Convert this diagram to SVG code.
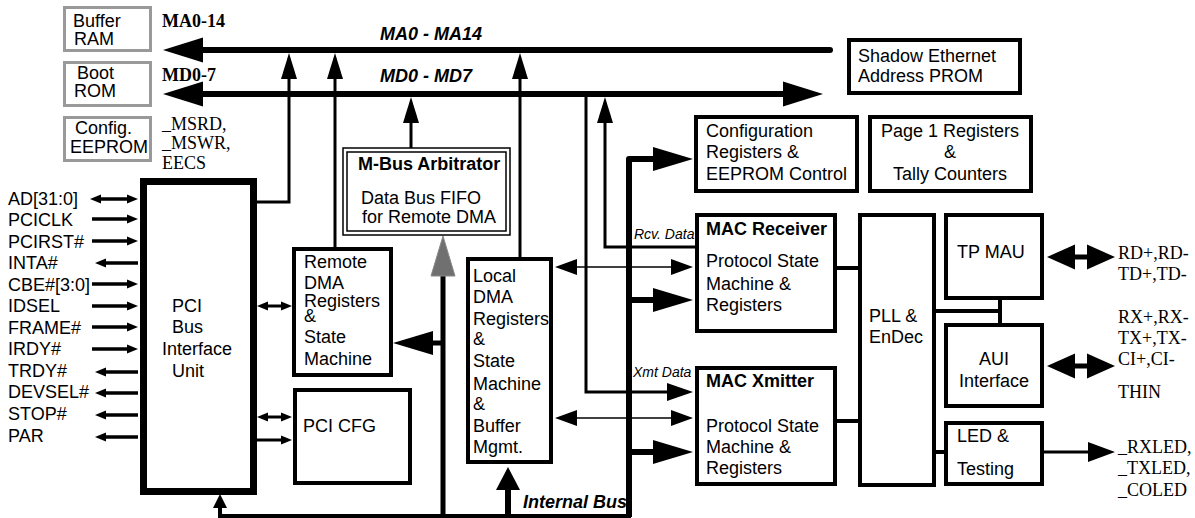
<svg xmlns="http://www.w3.org/2000/svg" width="1195" height="518" viewBox="0 0 1195 518">
<style>
.box{fill:#fff;stroke:#000;stroke-width:4}
.gbox{fill:#fff;stroke:#999;stroke-width:3}
.t{font-family:"Liberation Sans",Arial,sans-serif;font-size:18px;fill:#000}
.s{font-family:"Liberation Serif","Times New Roman",serif;font-size:18px;fill:#000}
.b{font-weight:bold}
.bi{font-weight:bold;font-style:italic}
.it{font-style:italic;font-size:14px}
.c{text-anchor:middle}
.ln{fill:none;stroke:#000}
</style>
<defs>
<marker id="mBig" markerUnits="userSpaceOnUse" markerWidth="40" markerHeight="25" refX="0" refY="12.5" orient="auto-start-reverse" overflow="visible"><path d="M0,0 L40,12.5 L0,25 z"/></marker>
<marker id="mMed" markerUnits="userSpaceOnUse" markerWidth="26" markerHeight="16" refX="0" refY="8" orient="auto-start-reverse" overflow="visible"><path d="M0,0 L26,8 L0,16 z"/></marker>
<marker id="mThick" markerUnits="userSpaceOnUse" markerWidth="40" markerHeight="24" refX="0" refY="12" orient="auto-start-reverse" overflow="visible"><path d="M0,0 L40,12 L0,24 z"/></marker>
<marker id="mUp" markerUnits="userSpaceOnUse" markerWidth="23" markerHeight="24" refX="0" refY="12" orient="auto-start-reverse" overflow="visible"><path d="M0,0 L23,12 L0,24 z"/></marker>
<marker id="mGray" markerUnits="userSpaceOnUse" markerWidth="40" markerHeight="24" refX="0" refY="12" orient="auto-start-reverse" overflow="visible"><path d="M0,0 L40,12 L0,24 z" fill="#707070" stroke="#888" stroke-width="1"/></marker>
<marker id="mSmall" markerUnits="userSpaceOnUse" markerWidth="11" markerHeight="9" refX="0" refY="4.5" orient="auto-start-reverse" overflow="visible"><path d="M0,0 L11,4.5 L0,9 z"/></marker>
<marker id="mPci" markerUnits="userSpaceOnUse" markerWidth="14" markerHeight="14" refX="0" refY="7" orient="auto-start-reverse" overflow="visible"><path d="M0,0 L14,7 L0,14 z"/></marker>
<marker id="mThin" markerUnits="userSpaceOnUse" markerWidth="22" markerHeight="16" refX="0" refY="8" orient="auto-start-reverse" overflow="visible"><path d="M0,0 L22,8 L0,16 z"/></marker>
<marker id="mXmt" markerUnits="userSpaceOnUse" markerWidth="26" markerHeight="18" refX="0" refY="9" orient="auto-start-reverse" overflow="visible"><path d="M0,0 L26,9 L0,18 z"/></marker>
<marker id="mDbl" markerUnits="userSpaceOnUse" markerWidth="28" markerHeight="25" refX="0" refY="12.5" orient="auto-start-reverse" overflow="visible"><path d="M0,0 L28,12.5 L0,25 z"/></marker>
<marker id="mLed" markerUnits="userSpaceOnUse" markerWidth="27" markerHeight="20" refX="0" refY="10" orient="auto-start-reverse" overflow="visible"><path d="M0,0 L27,10 L0,20 z"/></marker>
</defs>
<rect width="1195" height="518" fill="#fff"/>

<g id="labels">
<text class="s b" x="162" y="27">MA0-14</text>
<text class="s b" x="162" y="81">MD0-7</text>
<text class="s" x="162" y="130">_MSRD,</text>
<text class="s" x="162" y="149">_MSWR,</text>
<text class="s" x="162" y="169">EECS</text>
<text class="t bi" x="380" y="40">MA0 - MA14</text>
<text class="t bi" x="380" y="82">MD0 - MD7</text>
<text class="t bi" x="523" y="508">Internal Bus</text>
<text class="t it" x="634" y="239">Rcv. Data</text>
<text class="t it" x="633" y="377">Xmt Data</text>
<g class="t">
<text x="8" y="205">AD[31:0]</text>
<text x="8" y="226">PCICLK</text>
<text x="8" y="248">PCIRST#</text>
<text x="8" y="269">INTA#</text>
<text x="8" y="291">CBE#[3:0]</text>
<text x="8" y="312">IDSEL</text>
<text x="8" y="334">FRAME#</text>
<text x="8" y="355">IRDY#</text>
<text x="8" y="377">TRDY#</text>
<text x="8" y="398">DEVSEL#</text>
<text x="8" y="420">STOP#</text>
<text x="8" y="442">PAR</text>
</g>
<g class="s">
<text x="1118" y="259">RD+,RD-</text>
<text x="1118" y="280">TD+,TD-</text>
<text x="1118" y="323">RX+,RX-</text>
<text x="1118" y="344">TX+,TX-</text>
<text x="1118" y="365">CI+,CI-</text>
<text x="1118" y="398">THIN</text>
<text x="1118" y="453">_RXLED,</text>
<text x="1118" y="474">_TXLED,</text>
<text x="1118" y="496">_COLED</text>
</g>
</g>

<g id="connectors">
<path class="ln" stroke-width="6" stroke-linecap="round" d="M830,50 H203" marker-end="url(#mBig)"/>
<path class="ln" stroke-width="6" d="M203,94 H783" marker-start="url(#mBig)" marker-end="url(#mBig)"/>
<path class="ln" stroke-width="3" d="M256,202 H289 V79" marker-end="url(#mMed)"/>
<path class="ln" stroke-width="3" d="M335,248 V79" marker-end="url(#mMed)"/>
<path class="ln" stroke-width="3" d="M520,258 V79" marker-end="url(#mMed)"/>
<path class="ln" stroke-width="3" d="M411,148 V123" marker-end="url(#mMed)"/>
<path class="ln" stroke-width="3" d="M695,247 H605 V123" marker-end="url(#mMed)"/>
<path class="ln" stroke-width="3" d="M586,94 V392 H667" marker-end="url(#mXmt)"/>
<path class="ln" stroke-width="6" stroke-linejoin="round" d="M629,517 V159 H653" marker-end="url(#mThick)"/>
<path class="ln" stroke-width="4" d="M631,516 H220 V508" marker-end="url(#mPci)"/>
<path class="ln" stroke-width="6" d="M508,517 V490" marker-end="url(#mUp)"/>
<path class="ln" stroke-width="5" stroke="#707070" d="M443,518 V276" marker-end="url(#mGray)"/>
<path class="ln" stroke-width="5" d="M443,343 H433" marker-end="url(#mThick)"/>
<path class="ln" stroke-width="6" d="M629,300 H653" marker-end="url(#mThick)"/>
<path class="ln" stroke-width="6" d="M629,452 H653" marker-end="url(#mThick)"/>
<path class="ln" stroke-width="1.5" d="M577,267 H671" marker-start="url(#mThin)" marker-end="url(#mThin)"/>
<path class="ln" stroke-width="1.5" d="M577,418 H671" marker-start="url(#mThin)" marker-end="url(#mThin)"/>
<path class="ln" stroke-width="3" d="M268,306 H281" marker-start="url(#mSmall)" marker-end="url(#mSmall)"/>
<path class="ln" stroke-width="3" d="M268,417 H281" marker-start="url(#mSmall)" marker-end="url(#mSmall)"/>
<path class="ln" stroke-width="3" d="M254,440 H281" marker-end="url(#mSmall)"/>
<g class="ln" stroke-width="3.5">
<path d="M101,199 H127" marker-start="url(#mSmall)" marker-end="url(#mSmall)"/>
<path d="M92,219 H127" marker-end="url(#mSmall)"/>
<path d="M92,241 H127" marker-end="url(#mSmall)"/>
<path d="M138,263 H106" marker-end="url(#mSmall)"/>
<path d="M92,284 H127" marker-end="url(#mSmall)"/>
<path d="M92,306 H127" marker-end="url(#mSmall)"/>
<path d="M92,327 H127" marker-end="url(#mSmall)"/>
<path d="M92,349 H127" marker-end="url(#mSmall)"/>
<path d="M138,372 H106" marker-end="url(#mSmall)"/>
<path d="M138,393 H106" marker-end="url(#mSmall)"/>
<path d="M138,415 H106" marker-end="url(#mSmall)"/>
<path d="M138,437 H106" marker-end="url(#mSmall)"/>
</g>
<g class="ln" stroke-width="4">
<path d="M837,268 H858"/>
<path d="M837,421 H858"/>
<path d="M936,311 H1000 M1000,300 V323"/>
<path d="M936,452 H944"/>
</g>
<path class="ln" stroke-width="5" d="M1075,257 H1087" marker-start="url(#mDbl)" marker-end="url(#mDbl)"/>
<path class="ln" stroke-width="5" d="M1075,366 H1087" marker-start="url(#mDbl)" marker-end="url(#mDbl)"/>
<path class="ln" stroke-width="3" d="M1044,452 H1088" marker-end="url(#mLed)"/>
</g>

<g id="buffer-ram"><rect class="gbox" x="64.5" y="7.5" width="86" height="43"/><text class="t" x="73" y="27">Buffer</text><text class="t" x="74" y="45">RAM</text></g>
<g id="boot-rom"><rect class="gbox" x="64.5" y="62.5" width="86" height="43"/><text class="t" x="77" y="79">Boot</text><text class="t" x="74" y="97">ROM</text></g>
<g id="config-eeprom"><rect class="gbox" x="64.5" y="117.5" width="86" height="43"/><text class="t" x="75" y="134">Config.</text><text class="t" x="70" y="153">EEPROM</text></g>

<g id="pci-biu"><rect class="box" style="stroke-width:7" x="143.5" y="181.5" width="110" height="310"/>
<text class="t" x="172" y="312">PCI</text><text class="t" x="172" y="333">Bus</text><text class="t" x="162" y="355">Interface</text><text class="t" x="172" y="377">Unit</text></g>

<g id="remote-dma"><rect class="box" x="294" y="249" width="97" height="126"/>
<text class="t" x="304" y="268">Remote</text><text class="t" x="304" y="289">DMA</text><text class="t" x="304" y="307">Registers</text><text class="t" x="304" y="322">&amp;</text><text class="t" x="304" y="343">State</text><text class="t" x="304" y="365">Machine</text></g>

<g id="pci-cfg"><rect class="box" x="295" y="390" width="115" height="93"/><text class="t" x="303" y="432">PCI CFG</text></g>

<g id="mbus-arbitrator"><rect x="343" y="148" width="167" height="87" fill="#fff" stroke="#000" stroke-width="1.5"/><rect x="347" y="152" width="159" height="79" fill="none" stroke="#000" stroke-width="1.5"/>
<text class="t b" x="358" y="170">M-Bus Arbitrator</text><text class="t" x="361" y="204">Data Bus FIFO</text><text class="t" x="362" y="223">for Remote DMA</text></g>

<g id="local-dma"><rect class="box" x="468" y="259" width="83" height="203"/>
<text class="t" x="473" y="282">Local</text><text class="t" x="473" y="303">DMA</text><text class="t" x="473" y="325">Registers</text><text class="t" x="473" y="345">&amp;</text><text class="t" x="473" y="367">State</text><text class="t" x="473" y="390">Machine</text><text class="t" x="473" y="410">&amp;</text><text class="t" x="473" y="432">Buffer</text><text class="t" x="473" y="453">Mgmt.</text></g>

<g id="shadow-prom"><rect class="box" x="849" y="40" width="171" height="53"/><text class="t" x="858" y="62">Shadow Ethernet</text><text class="t" x="858" y="82">Address PROM</text></g>

<g id="config-registers"><rect class="box" x="696" y="117" width="161" height="74"/><text class="t" x="706" y="137">Configuration</text><text class="t" x="706" y="158">Registers &amp;</text><text class="t" x="706" y="180">EEPROM Control</text></g>

<g id="page1-registers"><rect class="box" x="870" y="117" width="161" height="74"/><text class="t c" x="950" y="137">Page 1 Registers</text><text class="t c" x="950" y="158">&amp;</text><text class="t c" x="950" y="180">Tally Counters</text></g>

<g id="mac-receiver"><rect class="box" x="697" y="215" width="138" height="116"/><text class="t b" x="706" y="235">MAC Receiver</text><text class="t" x="706" y="267">Protocol State</text><text class="t" x="706" y="290">Machine &amp;</text><text class="t" x="706" y="311">Registers</text></g>

<g id="mac-xmitter"><rect class="box" x="697" y="368" width="138" height="116"/><text class="t b" x="706" y="387">MAC Xmitter</text><text class="t" x="706" y="432">Protocol State</text><text class="t" x="706" y="453">Machine &amp;</text><text class="t" x="706" y="474">Registers</text></g>

<g id="pll-endec"><rect class="box" x="860" y="215" width="74" height="270"/><text class="t" x="869" y="322">PLL &amp;</text><text class="t" x="869" y="343">EnDec</text></g>

<g id="tp-mau"><rect class="box" x="946" y="215" width="96" height="83"/><text class="t" x="957" y="258">TP MAU</text></g>

<g id="aui"><rect class="box" x="946" y="325" width="96" height="81"/><text class="t c" x="994" y="365">AUI</text><text class="t c" x="994" y="387">Interface</text></g>

<g id="led-testing"><rect class="box" x="946" y="423" width="96" height="61"/><text class="t" x="957" y="442">LED &amp;</text><text class="t" x="957" y="475">Testing</text></g>
</svg>
